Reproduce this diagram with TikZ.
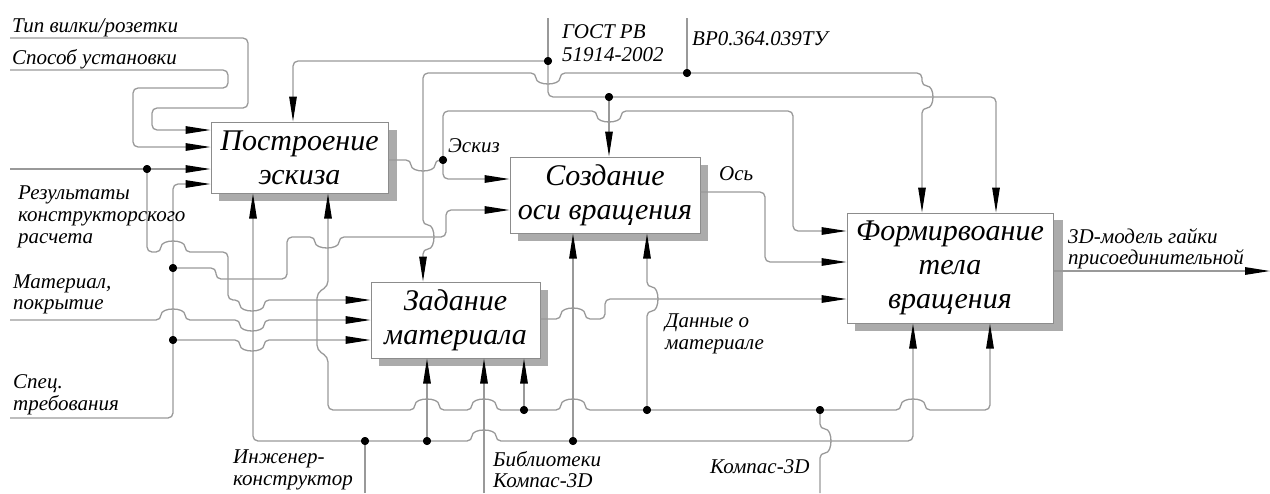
\documentclass[tikz,border=0pt]{standalone}
\usepackage{fontspec}
\setmainfont{Liberation Serif}[ItalicFont={Liberation Serif Italic}]
\usetikzlibrary{arrows.meta}
\newcommand\HopH[4]{-- (#1,#3) .. controls (#1,{#3+#4}) and (#2,{#3+#4}) .. (#2,#3)}
\newcommand\HopV[4]{-- (#3,#1) .. controls ({#3+#4},#1) and ({#3+#4},#2) .. (#3,#2)}
\begin{document}
\begin{tikzpicture}[x=1pt,y=-1pt,
  ln/.style={draw=black!40, line width=1.3pt, rounded corners=5pt},
  arr/.style={-{Triangle[length=25pt,width=7.5pt,color=black]}},
  dot/.style={circle,fill=black,inner sep=0pt,minimum size=8pt},
  box/.style={draw=black!45,fill=white,line width=1pt,inner sep=0pt,align=center,
    font=\fontsize{30}{34}\selectfont\itshape},
  shd/.style={fill=black!33},
  lbl/.style={font=\fontsize{21}{24}\selectfont\itshape,inner sep=0pt,anchor=base west}]
\useasboundingbox (0,0) rectangle (1270,493);
% shadows
\fill[shd] (219,130) rectangle (397,201);
\fill[shd] (518,165) rectangle (708,241);
\fill[shd] (379,290) rectangle (548,366);
\fill[shd] (855,220) rectangle (1063,331);
% boxes
\node[box,minimum width=177pt,minimum height=71pt] (b1) at (299.5,157.5) {Построение\\эскиза};
\node[box,minimum width=190pt,minimum height=76pt] (b2) at (605,195) {Создание\\оси вращения};
\node[box,minimum width=169pt,minimum height=76pt] (b3) at (455.5,320) {Задание\\материала};
\node[box,minimum width=206pt,minimum height=110pt] (b4) at (950,268) {Формирвоание\\тела\\вращения};
% free ends
\coordinate (i1) at (10,38);
\coordinate (i2) at (10,70);
\coordinate (i3) at (10,169);
\coordinate (i4) at (10,418);
\coordinate (i5) at (10,320);
\coordinate (c1) at (548,18);
\coordinate (c2) at (687,18);
\coordinate (m1) at (365,493);
\coordinate (m2) at (484,493);
\coordinate (m3) at (820,493);
\coordinate (o1) at (1270,271);
% dots
\node[dot] (d1) at (147,169) {};
\node[dot] (d2) at (173,268) {};
\node[dot] (d3) at (173,340) {};
\node[dot] (d4) at (443,160) {};
\node[dot] (d5) at (548,61) {};
\node[dot] (d6) at (609,97) {};
\node[dot] (d7) at (687,73) {};
\node[dot] (d8) at (365,441) {};
\node[dot] (d9) at (427,441) {};
\node[dot] (d10) at (573,441) {};
\node[dot] (d11) at (524,410) {};
\node[dot] (d12) at (647,410) {};
\node[dot] (d13) at (820,410) {};
% inputs of b1
\draw[ln,arr] (i1) -- (248,38) -- (248,108) -- (152,108) -- (152,130) -- (b1.west|-0,130);
\draw[ln,arr] (i2) -- (228,70) -- (228,88) -- (133,88) -- (133,147) -- (b1.west|-0,147);
\draw[ln,arr] (i3) -- (d1) -- (b1.west|-0,169);
\draw[ln,arr] (i4) -- (173,418) -- (d3) -- (d2) -- (173,184) -- (b1.west|-0,184);
% inputs of b3 and b2
\draw[ln,arr] (d1) -- (147,252) \HopH{161}{185}{252}{-13} -- (228,252) -- (228,300) \HopH{240}{264}{300}{13} -- (b3.west|-0,300);
\draw[ln,arr] (i5) \HopH{161}{185}{320}{-13} \HopH{240}{264}{320}{13} -- (b3.west|-0,320);
\draw[ln,arr] (d3) \HopH{240}{264}{340}{13} -- (b3.west|-0,340);
\draw[ln,arr] (d2) -- (216,268) -- (216,279) -- (287,279) -- (287,237) \HopH{315}{339}{237}{13} -- (446,237) -- (446,210) -- (b2.west|-0,210);
% Eskiz
\draw[ln] (b1.east|-0,160) \HopH{411}{435}{160}{13} -- (d4);
\draw[ln,arr] (d4) -- (443,179) -- (b2.west|-0,179);
\draw[ln,arr] (d4) -- (443,111) \HopH{597}{621}{111}{13} -- (793,111) -- (793,231) -- (b4.west|-0,231);
% Os
\draw[ln,arr] (b2.east|-0,192) -- (765,192) -- (765,262) -- (b4.west|-0,262);
% Dannye
\draw[ln,arr] (b3.east|-0,319) \HopH{561}{585}{319}{-13} -- (605,319) -- (605,299) -- (b4.west|-0,299);
% output
\draw[ln,arr] (b4.east|-0,271) -- (o1);
% GOST
\draw[ln] (c1) -- (d5);
\draw[ln,arr] (d5) -- (293,61) -- (b1.north-|293,0);
\draw[ln,arr] (d5) -- (548,97) -- (d6) -- (996,97) -- (b4.north-|996,0);
\draw[ln,arr] (d6) -- (b2.north-|609,0);
% VR
\draw[ln] (c2) -- (d7);
\draw[ln,arr] (d7) -- (922,73) \HopV{86}{108}{922}{13} -- (b4.north-|922,0);
\draw[ln,arr] (d7) \HopH{560}{536}{73}{13} -- (423,73) \HopV{225}{249}{423}{13} -- (b3.north-|423,0);
% mechanisms
\draw[ln] (m1) -- (d8);
\draw[ln,arr] (d8) -- (253,441) -- (b1.south-|253,0);
\draw[ln,arr] (d8) -- (d9) \HopH{472}{496}{441}{-13} -- (d10) -- (913,441) -- (b4.south-|913,0);
\draw[ln,arr] (d9) -- (b3.south-|427,0);
\draw[ln,arr] (d10) -- (b2.south-|573,0);
\draw[ln,arr] (m2) -- (b3.south-|484,0);
\draw[ln] (m3) \HopV{453}{429}{820}{13} -- (d13);
\draw[ln,arr] (d13) -- (d12) \HopH{585}{561}{410}{-13} -- (d11) \HopH{496}{472}{410}{-13} \HopH{439}{415}{410}{-13} -- (328,410) -- (328,357) -- (317,350) -- (317,293) -- (328,286) -- (b1.south-|328,0);
\draw[ln,arr] (d13) \HopH{901}{925}{410}{-13} -- (990,410) -- (b4.south-|990,0);
\draw[ln,arr] (d11) -- (b3.south-|524,0);
\draw[ln,arr] (d12) \HopV{311}{287}{647}{13} -- (b2.south-|647,0);
% redraw dots on top
\foreach \d in {d1,d2,d3,d4,d5,d6,d7,d8,d9,d10,d11,d12,d13}{\fill (\d) circle (4pt);}
% labels
\node[lbl] (t1) at (12,32) {Тип вилки/розетки};
\node[lbl] (t2) at (12,64) {Способ установки};
\node[lbl] (t3a) at (18,199) {Результаты};
\node[lbl] (t3b) at (18,221) {конструкторского};
\node[lbl] (t3c) at (18,243) {расчета};
\node[lbl] (t4a) at (13,288) {Материал,};
\node[lbl] (t4b) at (13,309) {покрытие};
\node[lbl] (t5a) at (13,388) {Спец.};
\node[lbl] (t5b) at (13,410) {требования};
\node[lbl] (t6a) at (233,463) {Инженер-};
\node[lbl] (t6b) at (233,485) {конструктор};
\node[lbl] (t7a) at (493,466) {Библиотеки};
\node[lbl] (t7b) at (493,487) {Компас-3D};
\node[lbl] (t8) at (710,473) {Компас-3D};
\node[lbl] (t9a) at (665,327) {Данные о};
\node[lbl] (t9b) at (665,349) {материале};
\node[lbl] (t10) at (719,180) {Ось};
\node[lbl] (t11) at (448,152) {Эскиз};
\node[lbl] (t12a) at (562,38) {ГОСТ РВ};
\node[lbl] (t12b) at (562,61) {51914-2002};
\node[lbl] (t13) at (692,45) {ВР0.364.039ТУ};
\node[lbl] (t14a) at (1068,243) {3D-модель гайки};
\node[lbl] (t14b) at (1068,264) {присоединительной};
\end{tikzpicture}
\end{document}
